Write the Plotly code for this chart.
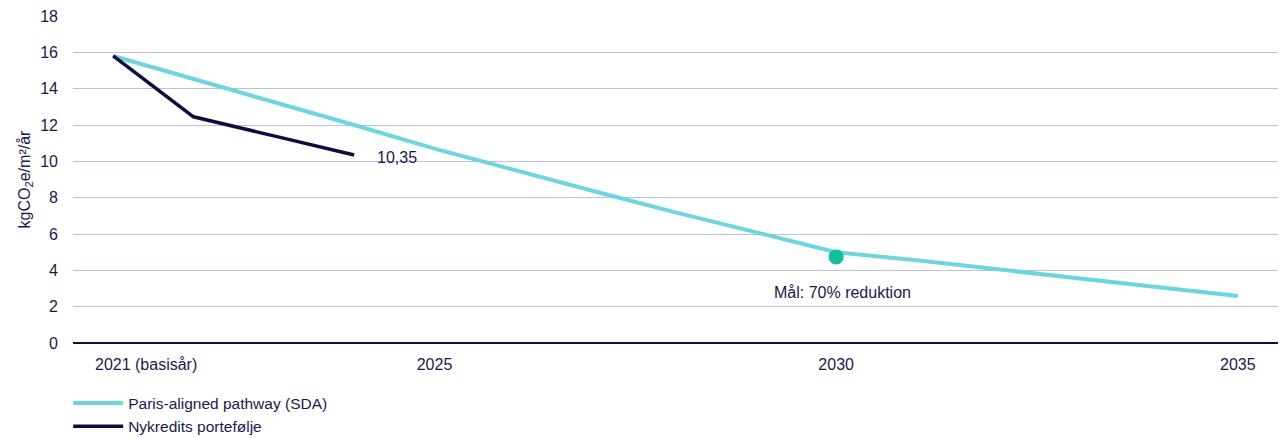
import plotly.graph_objects as go

years = list(range(2021, 2036))
paris = [15.8, 14.55, 13.26, 12.0, 10.7, 9.5, 8.34, 7.19, 6.1, 5.0, 4.55, 4.05, 3.55, 3.06, 2.59]
nyk_years = [2021, 2022, 2023, 2024]
nykredit = [15.8, 12.45, 11.4, 10.35]
target_year = [2030]
target_value = [4.74]
tick_years = [2021, 2025, 2030, 2035]
tick_text = ["2021 (basisår)", "2025", "2030", "2035"]
y_ticks = [0, 2, 4, 6, 8, 10, 12, 14, 16, 18]

NAVY = "#0D0D40"
CYAN = "#6DD4E0"
GREEN = "#12BE9C"
TEXT = "#1A1A4A"
FONT = "Liberation Sans, Arial, sans-serif"
FS = 16

fig = go.Figure()
fig.add_trace(go.Scatter(x=years, y=paris, mode="lines", name="Paris-aligned pathway (SDA)",
                         line=dict(color=CYAN, width=4)))
fig.add_trace(go.Scatter(x=nyk_years, y=nykredit, mode="lines", name="Nykredits portefølje",
                         line=dict(color=NAVY, width=3.5)))
fig.add_trace(go.Scatter(x=target_year, y=target_value, mode="markers", showlegend=False,
                         marker=dict(color=GREEN, size=15)))

fig.add_annotation(x=nyk_years[-1], y=nykredit[-1], text="10,35", showarrow=False,
                   xanchor="left", yanchor="middle", xshift=21, yshift=-3,
                   font=dict(size=FS, color=TEXT, family=FONT))
fig.add_annotation(x=target_year[0], y=2.8, text="Mål: 70% reduktion", showarrow=False,
                   xanchor="center", yanchor="middle", xshift=6,
                   font=dict(size=FS, color=TEXT, family=FONT))
fig.add_annotation(x=tick_years[0], y=0, yref="paper", text=tick_text[0], showarrow=False,
                   xanchor="center", yanchor="middle", xshift=33, yshift=-21,
                   font=dict(size=FS, color=TEXT, family=FONT))

fig.update_layout(
    width=1285, height=438,
    margin=dict(l=73, r=7, t=16, b=95, autoexpand=False),
    paper_bgcolor="white", plot_bgcolor="white",
    font=dict(family=FONT, size=FS, color=TEXT),
    legend=dict(x=-0.004, y=-0.133, xanchor="left", yanchor="top", orientation="v",
                font=dict(size=FS - 0.5, color=TEXT), tracegroupgap=0, itemwidth=50,
                bgcolor="rgba(0,0,0,0)"),
)
fig.update_xaxes(range=[2020.5, 2035.5], tickvals=tick_years[1:], ticktext=tick_text[1:],
                 showgrid=False, zeroline=False, showline=False, ticks="",
                 ticklabelstandoff=10, tickfont=dict(size=FS, color=TEXT))
fig.update_yaxes(range=[0, 18], tickvals=y_ticks, showgrid=True, gridcolor="#BEBEDD", gridwidth=1,
                 zeroline=True, zerolinecolor=NAVY, zerolinewidth=2, showline=False, ticks="",
                 ticklabelstandoff=14, tickfont=dict(size=FS, color=TEXT),
                 title=dict(text="kgCO<sub>2</sub>e/m²/år", font=dict(size=FS, color=TEXT), standoff=5))

fig.write_html("out.html")
